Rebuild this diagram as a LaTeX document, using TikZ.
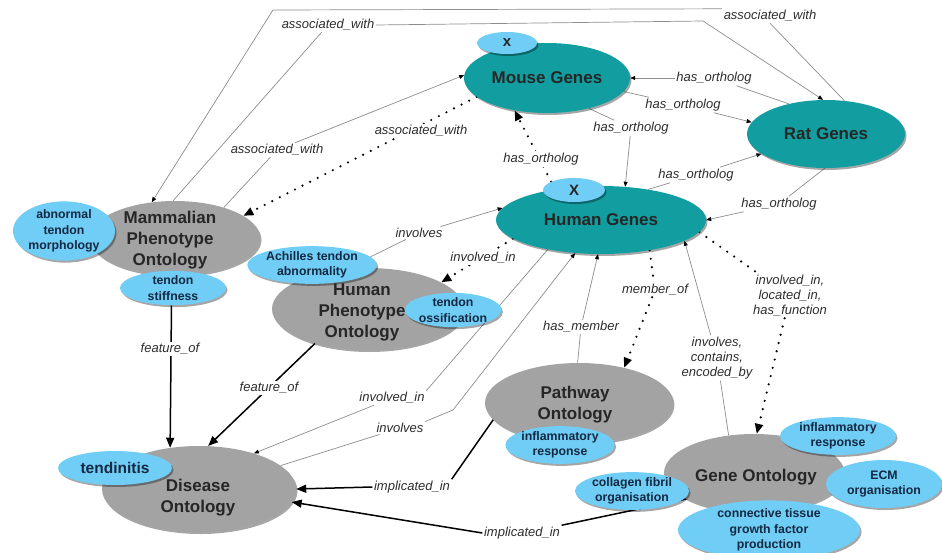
\documentclass[tikz,border=0pt]{standalone}
\usepackage{fontspec}
\setmainfont{Liberation Sans}
\usetikzlibrary{shapes.geometric,arrows.meta,shadows}
\pgfdeclarelayer{bg}
\pgfsetlayers{bg,main}
\definecolor{tealc}{RGB}{18,158,160}
\definecolor{skyc}{RGB}{112,205,245}
\definecolor{grayc}{RGB}{163,163,163}
\definecolor{navyc}{RGB}{20,40,65}
\definecolor{lblc}{RGB}{45,45,45}
\definecolor{thinc}{RGB}{140,140,140}
\tikzset{
 ell/.style={ellipse, inner sep=0pt, drop shadow={shadow xshift=1.5pt,shadow yshift=-2pt,opacity=0.35,fill=black}},
 gene/.style={ell, fill=tealc, font=\fontsize{17}{21}\selectfont\bfseries, text=black!85},
 onto/.style={ell, fill=grayc},
 ontotext/.style={inner sep=0pt, align=center, font=\fontsize{17}{21}\selectfont\bfseries, text=black!85},
 term/.style={ell, fill=skyc, font=\fontsize{12.3}{15.2}\selectfont\bfseries, text=navyc, align=center},
 xbadge/.style={ell, fill=skyc, font=\fontsize{15}{18}\selectfont\bfseries, text=black!85},
 lbl/.style={font=\fontsize{13}{15}\selectfont\itshape, text=lblc, inner sep=1.5pt, align=center},
 lblw/.style={lbl, fill=white},
 thinline/.style={draw=thinc, line width=0.7pt},
 thinarrow/.style={thinline, -{Triangle[length=5pt,width=4pt,color=black]}},
 thickline/.style={draw=black, line width=1.5pt},
 thickarrow/.style={thickline, -{Triangle[length=10pt,width=8pt]}},
 dotline/.style={draw=black, line width=2.4pt, line cap=round, dash pattern=on 0pt off 8.5pt},
 dotarrow/.style={dotline, -{Triangle[length=10pt,width=8pt]}},
}
\begin{document}
\begin{tikzpicture}[x=1pt,y=-1pt]
\useasboundingbox (0,0) rectangle (942,552);
% main nodes
\node[gene, minimum width=166pt, minimum height=70pt] (mouse) at (547,78) {Mouse Genes};
\node[gene, minimum width=158pt, minimum height=68pt] (rat) at (826,134) {Rat Genes};
\node[gene, minimum width=210pt, minimum height=68pt] (human) at (601,220) {Human Genes};
\node[onto, minimum width=170pt, minimum height=74pt] (mam) at (175,238) {};
\node[ontotext] (mamT) at (170,240) {Mammalian\\Phenotype\\Ontology};
\node[onto, minimum width=192pt, minimum height=82pt] (hpo) at (368,309) {};
\node[onto, minimum width=194pt, minimum height=86pt] (dis) at (199,489) {};
\node[ontotext] (disT) at (198,498) {Disease\\Ontology};
\node[onto, minimum width=188pt, minimum height=80pt] (pw) at (579,403) {};
\node[ontotext] (pwT) at (575,405) {Pathway\\Ontology};
\node[onto, minimum width=180pt, minimum height=78pt] (go) at (754,473) {};
\node[ontotext] (goT) at (756,477) {Gene Ontology};
% badges and terms
\node[xbadge, minimum width=60pt, minimum height=22pt] (mouseX) at (507,43) {x};
\node[xbadge, minimum width=62pt, minimum height=24pt] (humanX) at (574,190) {X};
\node[term, minimum width=102pt, minimum height=54pt] (atm) at (64,231) {abnormal\\tendon\\morphology};
\node[term, minimum width=106pt, minimum height=32pt] (ts) at (173,288) {tendon\\stiffness};
\node[term, minimum width=124pt, minimum height=28pt] (ata) at (312,265) {Achilles tendon\\abnormality};
\node[ontotext] (hpoT) at (362,312) {Human\\Phenotype\\Ontology};
\node[term, minimum width=90pt, minimum height=34pt] (tos) at (453,310) {tendon\\ossification};
\node[term, minimum width=114pt, minimum height=34pt, font=\fontsize{15.5}{18}\selectfont\bfseries] (tend) at (115,468) {tendinitis};
\node[term, minimum width=102pt, minimum height=30pt] (pir) at (560,445) {inflammatory\\response};
\node[term, minimum width=116pt, minimum height=32pt] (gir) at (838,436) {inflammatory\\response};
\node[term, minimum width=116pt, minimum height=48pt] (ecm) at (884,484) {ECM\\organisation};
\node[term, minimum width=114pt, minimum height=32pt] (cfo) at (632,491) {collagen fibril\\organisation};
\node[term, minimum width=182pt, minimum height=46pt] (ctg) at (769,530) {connective tissue\\growth factor\\production};
% labels
\node[lbl] (lbA) at (770,16) {associated\_with};
\node[lbl] (lbB) at (328,25) {associated\_with};
\node[lbl] (lbC) at (277,150) {associated\_with};
\node[lblw] (lbD) at (421,131) {associated\_with};
\node[lbl] (lbE) at (714,78) {has\_ortholog};
\node[lbl] (lbF) at (683,105) {has\_ortholog};
\node[lbl] (lbG) at (631,128) {has\_ortholog};
\node[lblw] (lbH) at (541,159) {has\_ortholog};
\node[lbl] (lbI) at (696,175) {has\_ortholog};
\node[lbl] (lbJ) at (779,204) {has\_ortholog};
\node[lbl] (lbK) at (419,233) {involves};
\node[lblw] (lbL) at (483,258) {involved\_in};
\node[lbl] (lbM) at (392,398) {involved\_in};
\node[lbl] (lbN) at (400,428) {involves};
\node[lblw] (lbO) at (269,388) {feature\_of};
\node[lblw] (lbP) at (170,349) {feature\_of};
\node[lbl] (lbQ) at (412,487) {implicated\_in};
\node[lbl] (lbR) at (522,533) {implicated\_in};
\node[lbl] (lbS) at (581,327) {has\_member};
\node[lbl] (lbT) at (655,290) {member\_of};
\node[lbl] (lbU) at (717,358) {involves,\\contains,\\encoded\_by};
\node[lbl] (lbV) at (790,296) {involved\_in,\\located\_in,\\has\_function};
\coordinate (cA) at (273,10);
\coordinate (cB) at (703,21);
\coordinate (cN) at (453,410);
% connectors
\begin{pgfonlayer}{bg}
\draw[thinline] (rat.61) -- (lbA.south);
\draw[thinarrow] (lbA.north west) -- (cA) -- (mam.123);
\draw[thinline] (mam.93) -- (lbB);
\draw[thinarrow] (lbB.east) -- (cB) -- (rat.95);
\draw[thinline] (mam.32) -- (lbC);
\draw[thinarrow] (lbC) -- (mouse.178);
\draw[dotarrow] (mouse.195) -- (mam.18);
\draw[thinline] (rat.141) -- (lbE);
\draw[thinarrow] (lbE) -- (mouse.0);
\draw[thinline] (mouse.-10) -- (lbF);
\draw[thinarrow] (lbF) -- (rat.171);
\draw[thinline] (mouse.-36) -- (lbG);
\draw[thinarrow] (lbG) -- (human.54);
\draw[dotarrow] (humanX.160) -- (mouse.225);
\draw[thinline] (human.33) -- (lbI);
\draw[thinarrow] (lbI) -- (rat.197);
\draw[thinline] (rat.268) -- (lbJ);
\draw[thinarrow] (lbJ) -- (human.0);
\draw[thinline] (ata.8) -- (lbK);
\draw[thinarrow] (lbK) -- (human.173);
\draw[dotarrow] (human.192) -- (hpo.20);
\draw[thinline] (human.209) -- (lbM.north east);
\draw[thinarrow] (lbM) -- (dis.33);
\draw[thinline] (dis.16) -- (lbN);
\draw[thinarrow] (lbN.north east) -- (cN) -- (human.232);
\draw[thickarrow] (hpo.213) -- (dis.78);
\draw[thickarrow] (ts.265) -- (dis.125);
\draw[thickline] (pw.191) -- (lbQ.north east);
\draw[thickarrow] (lbQ.west) -- (dis.0);
\draw[thickline] (go.201) -- (lbR.north east);
\draw[thickarrow] (lbR.west) -- (dis.-8);
\draw[thinline] (pw.92) -- (lbS);
\draw[thinarrow] (lbS) -- (human.265);
\draw[dotline] (human.328) -- (lbT);
\draw[dotarrow] (lbT) -- (pw.38);
\draw[thinline] (go.124) -- (lbU);
\draw[thinarrow] (lbU) -- (human.346);
\draw[dotline] (human.353) -- (lbV);
\draw[dotarrow] (lbV) -- (go.86);
\end{pgfonlayer}
\end{tikzpicture}
\end{document}
